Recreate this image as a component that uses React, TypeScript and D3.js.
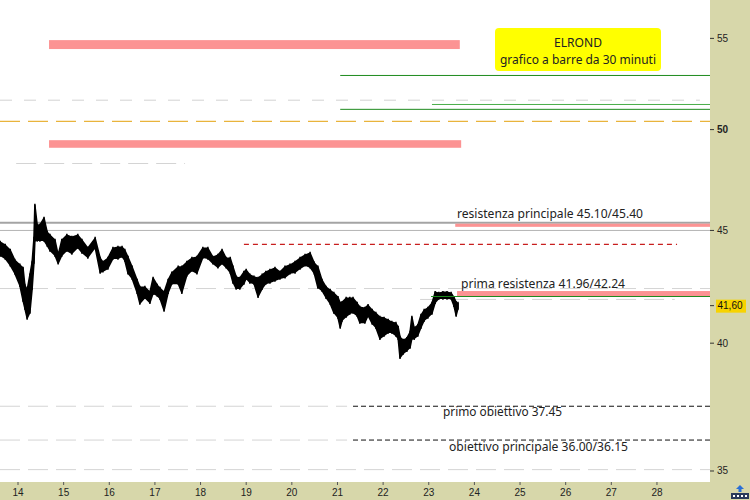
import React from "react";
import * as d3 from "d3";

// ---- data ----
const priceDays = [13.61,13.72,13.83,13.93,14.04,14.11,14.15,14.20,14.26,14.31,14.35,14.37,14.42,14.48,14.57,14.64,14.70,14.81,14.88,14.96,15.07,15.18,15.31,15.40,15.53,15.69,15.80,15.86,15.97,16.08,16.19,16.28,16.34,16.41,16.50,16.61,16.67,16.78,16.89,16.96,17.05,17.11,17.20,17.29,17.37,17.51,17.59,17.70,17.81,17.92,18.05,18.16,18.27,18.38,18.47,18.56,18.65,18.71,18.78,18.86,18.95,19.00,19.08,19.17,19.26,19.35,19.43,19.52,19.63,19.74,19.85,19.96,20.07,20.18,20.29,20.40,20.49,20.57,20.66,20.75,20.84,20.92,21.01,21.06,21.10,21.19,21.27,21.34,21.43,21.49,21.60,21.67,21.76,21.84,21.93,22.02,22.11,22.19,22.28,22.33,22.37,22.44,22.52,22.59,22.63,22.68,22.76,22.83,22.90,22.98,23.07,23.14,23.22,23.31,23.40,23.49,23.55,23.60,23.64];
const priceHigh = [44.45,44.31,44.08,43.62,43.40,43.26,42.50,42.27,42.95,43.53,44.63,46.20,45.25,45.25,45.58,44.91,44.77,44.54,43.85,44.54,44.77,44.68,44.77,44.54,44.17,44.63,43.71,43.53,43.71,44.17,44.22,44.22,44.08,43.76,43.31,42.72,42.41,42.41,42.18,42.81,42.50,42.36,42.18,42.72,43.04,43.31,43.31,43.53,43.71,43.76,44.17,44.17,43.76,43.85,44.08,43.71,43.71,43.31,42.86,42.81,43.08,43.17,42.95,42.86,42.81,42.95,43.08,43.17,43.26,43.08,43.31,43.40,43.53,43.71,43.85,43.94,43.49,43.31,42.72,42.41,42.27,42.14,41.96,41.70,41.74,41.92,41.92,41.92,41.70,41.53,41.49,41.61,41.40,41.27,41.10,41.06,40.97,40.88,40.84,40.67,40.25,40.12,40.20,40.46,41.10,40.63,40.75,41.18,41.40,41.49,41.70,42.18,42.14,42.18,42.18,42.14,41.96,41.74,41.70];
const priceLow = [43.85,43.71,43.40,43.04,42.50,41.83,41.49,41.06,41.31,42.36,43.53,44.54,44.54,44.54,44.54,44.31,44.08,43.85,43.49,43.85,44.08,43.94,44.22,43.99,43.76,44.22,43.08,43.13,43.26,43.71,43.71,43.80,43.62,43.04,42.81,42.18,41.70,41.96,41.74,42.14,42.05,41.92,41.40,42.18,42.58,42.58,42.18,42.95,43.17,43.04,43.76,43.71,43.49,43.31,43.49,43.31,43.08,42.63,42.36,42.36,42.58,42.81,42.63,42.58,42.00,42.36,42.58,42.63,42.72,42.81,42.86,43.04,43.08,43.26,43.40,43.31,43.04,42.41,42.27,41.96,41.70,41.31,41.10,40.67,40.97,41.14,41.27,41.31,41.18,40.88,40.88,41.18,40.84,40.67,40.20,40.33,40.46,40.46,40.33,40.20,39.41,39.58,39.70,39.83,40.20,40.20,40.33,40.67,40.97,41.10,41.27,41.74,41.92,41.92,41.92,41.92,41.61,41.18,41.49];

const yTicks = [35, 40, 45, 50, 55];
const xTicks = [14, 15, 16, 17, 18, 19, 20, 21, 22, 23, 24, 25, 26, 27, 28];
const lastPrice = 41.6;
const lastPriceLabel = "41,60";

// pink zones: [low, high, fromDay, toDay]
const zoneLow = [54.39, 49.06, 45.17, 42.0];
const zoneHigh = [54.9, 49.45, 45.32, 42.24];
const zoneFrom = [14.68, 14.68, 23.58, 23.62];
const zoneTo = [23.68, 23.71, 99, 99];

// horizontal levels: value, from, to, kind
const levelValue = [51.56, 50.43, 48.26, 42.35, 41.87, 37.45, 36.15, 35.05, 45.36, 45.0, 44.35, 37.45, 36.15, 52.91, 51.07, 51.33, 42.0];
const levelFrom = [0, 0, 13.96, 0, 22.81, 0, 0, 0, 0, 0, 18.95, 21.34, 21.34, 21.06, 21.06, 23.07, 23.05];
const levelTo = [28.94, 99, 17.66, 99, 28.39, 21.21, 21.21, 99, 99, 99, 28.44, 99, 99, 99, 99, 99, 99];
const levelKind = ["greyWide", "orange", "grey", "grey", "grey", "grey", "grey", "grey", "greyThick", "greyThin", "red", "black", "black", "green", "green", "greenLight", "green"];

const annotations = [
  "ELROND",
  "grafico a barre da 30 minuti",
  "resistenza principale 45.10/45.40",
  "prima resistenza 41.96/42.24",
  "primo obiettivo 37.45",
  "obiettivo principale 36.00/36.15",
];

// ---- layout ----
const W = 750, H = 500;
const PW = 710, PH = 482;
const AXIS_BG = "#d7d7aa";

const levelStyle: Record<string, any> = {
  greyWide: { stroke: "#d2d2d2", width: 1, dash: "12,12" },
  orange: { stroke: "#e9b43c", width: 1.2, dash: "20,8" },
  grey: { stroke: "#d4d4d4", width: 1, dash: "20,8" },
  greyThick: { stroke: "#a4a4a4", width: 2, dash: null },
  greyThin: { stroke: "#b4b4b4", width: 1, dash: null },
  red: { stroke: "#c81e1e", width: 1.2, dash: "5,4" },
  black: { stroke: "#111", width: 1, dash: "5,3" },
  green: { stroke: "#1d8a1d", width: 1, dash: null },
  greenLight: { stroke: "#48ad48", width: 1, dash: null },
};

export default function App() {
  const x = d3.scaleLinear().domain([13.6056, 29.162]).range([0, PW]);
  const y = d3.scaleLog().domain([34.6, 57.25]).range([PH, 0]);
  const cx = (d: number) => Math.max(0, Math.min(PW, x(d)));

  const pts = priceDays.map((d, i) => ({ d, h: priceHigh[i], l: priceLow[i] }));
  const area = d3
    .area<any>()
    .x((p) => x(p.d))
    .y0((p) => y(p.l))
    .y1((p) => y(p.h))
    .curve(d3.curveLinear);

  const font = "'Noto Sans', 'Open Sans', sans-serif";
  const axisFont = "'Liberation Sans', Arial, sans-serif";

  const levelLines = (kinds: string[]) =>
    levelValue.map((v, i) =>
      kinds.includes(levelKind[i]) ? (
        <line
          key={"lv" + i}
          x1={cx(levelFrom[i])}
          x2={cx(levelTo[i])}
          y1={y(v)}
          y2={y(v)}
          stroke={levelStyle[levelKind[i]].stroke}
          strokeWidth={levelStyle[levelKind[i]].width}
          strokeDasharray={levelStyle[levelKind[i]].dash || undefined}
        />
      ) : null
    );

  return (
    <svg
      width={W}
      height={H}
      style={{ position: "absolute", left: 0, top: 0, background: "#fff" }}
    >
      <rect x={0} y={0} width={PW} height={PH} fill="#fff" />
      {levelLines(["greyWide", "orange", "grey", "greyThick", "greyThin"])}
      {zoneLow.map((lo, i) => (
        <rect
          key={"z" + i}
          x={cx(zoneFrom[i])}
          y={y(zoneHigh[i])}
          width={cx(zoneTo[i]) - cx(zoneFrom[i])}
          height={y(lo) - y(zoneHigh[i])}
          fill="#fc9393"
        />
      ))}
      {levelLines(["red", "black"])}
      <path
        d={area(pts) || ""}
        fill="#000"
        stroke="#000"
        strokeWidth={1.6}
        strokeLinejoin="round"
      />
      {pts.map((p, i) => (
        <line
          key={"b" + i}
          x1={x(p.d)}
          x2={x(p.d)}
          y1={y(p.h) - 1.5}
          y2={y(p.l) + 1.5}
          stroke="#000"
          strokeWidth={1.5}
        />
      ))}
      {levelLines(["green", "greenLight"])}

      {/* title box */}
      <rect x={495} y={28} width={166} height={43} rx={4} fill="#ffff00" />
      <text x={578} y={46.5} textAnchor="middle" fontFamily={font} fontSize={13} fill="#222" textLength={48} lengthAdjust="spacingAndGlyphs">
        {annotations[0]}
      </text>
      <text x={578} y={64} textAnchor="middle" fontFamily={font} fontSize={13} fill="#222" textLength={156} lengthAdjust="spacingAndGlyphs">
        {annotations[1]}
      </text>

      <text x={457} y={218} fontFamily={font} fontSize={13} fill="#222" textLength={186} lengthAdjust="spacingAndGlyphs">
        {annotations[2]}
      </text>
      <text x={461} y={288} fontFamily={font} fontSize={13} fill="#222" textLength={164} lengthAdjust="spacingAndGlyphs">
        {annotations[3]}
      </text>
      <text x={443} y={415.5} fontFamily={font} fontSize={13} fill="#222" textLength={119} lengthAdjust="spacingAndGlyphs">
        {annotations[4]}
      </text>
      <text x={449} y={451} fontFamily={font} fontSize={13} fill="#222" textLength={179} lengthAdjust="spacingAndGlyphs">
        {annotations[5]}
      </text>

      {/* right axis */}
      <rect x={PW} y={0} width={W - PW} height={H} fill={AXIS_BG} />
      {yTicks.map((t) => (
        <g key={"yt" + t}>
          <line x1={PW} x2={PW + 4} y1={y(t)} y2={y(t)} stroke="#333" />
          <text
            x={PW + 7}
            y={y(t) + 3.5}
            fontFamily={axisFont}
            fontSize={10}
            fontWeight={t === 50 ? "bold" : "normal"}
            fill="#222"
          >
            {t}
          </text>
        </g>
      ))}
      <line x1={PW} x2={PW + 4} y1={y(lastPrice)} y2={y(lastPrice)} stroke="#333" />
      <rect x={PW + 6} y={y(lastPrice) - 6} width={30} height={13} fill="#f7d300" />
      <text x={PW + 7.5} y={y(lastPrice) + 3.5} fontFamily={axisFont} fontSize={10} fill="#111">
        {lastPriceLabel}
      </text>

      {/* bottom axis */}
      <rect x={0} y={PH} width={PW} height={H - PH} fill={AXIS_BG} />
      {xTicks.map((t) => (
        <g key={"xt" + t}>
          <line x1={x(t)} x2={x(t)} y1={PH} y2={PH + 3} stroke="#555" />
          <text x={x(t)} y={496} textAnchor="middle" fontFamily={axisFont} fontSize={10} fill="#222">
            {t}
          </text>
        </g>
      ))}

      {/* corner icon */}
      <g>
        <path d="M740,485 L744,489 L741.5,489 L741.5,492 L738.5,492 L738.5,489 L736,489 Z" fill="#2a6fd6" />
        <rect x={731} y={493} width={18} height={6} fill="#2a3a5a" />
        {[733, 737, 741, 745].map((dx) => (
          <rect key={dx} x={dx} y={495} width={2} height={2} fill="#fff" />
        ))}
      </g>
    </svg>
  );
}
